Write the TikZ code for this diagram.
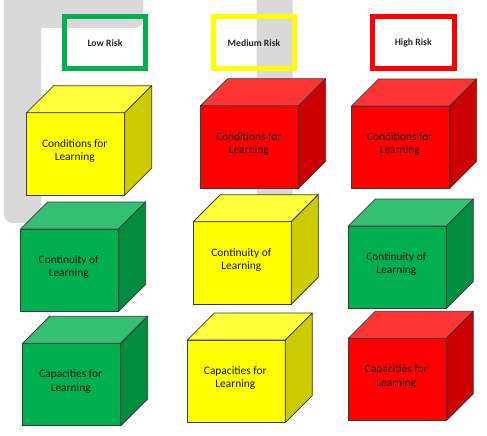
\documentclass[tikz,border=0pt]{standalone}
\usepackage{fontspec}
\setmainfont{Carlito}
\usetikzlibrary{calc}
\definecolor{bggray}{HTML}{D9D9D9}
\definecolor{cubeline}{HTML}{3A3A3A}
\definecolor{lowgreen}{HTML}{00B050}
\definecolor{medyellow}{HTML}{FFFF00}
\definecolor{highred}{HTML}{FF0000}
\definecolor{yelF}{HTML}{FFFF00}
\definecolor{yelT}{HTML}{FFFF3A}
\definecolor{yelS}{HTML}{CCCC00}
\definecolor{redF}{HTML}{FF0000}
\definecolor{redT}{HTML}{FF3535}
\definecolor{redS}{HTML}{CC0000}
\definecolor{grnF}{HTML}{00B050}
\definecolor{grnT}{HTML}{33C073}
\definecolor{grnS}{HTML}{008D40}
\tikzset{
  cubefront/.style={draw=cubeline, line width=0.75pt, minimum width=98pt,
    minimum height=82.5pt, inner sep=0pt, outer sep=0pt},
  cubeface/.style={draw=cubeline, line width=0.75pt, line join=round},
  cubetext/.style={align=center, font=\fontsize{11.4}{13.3}\selectfont, text=black!92},
  riskbox/.style={draw, line width=5pt, minimum width=81.6pt, minimum height=51.7pt,
    inner sep=0pt, font=\bfseries\fontsize{9.7}{11}\selectfont, text=black!85},
}
\newcommand{\mycube}[5]{%
  \node[cubefront, fill=#4F, anchor=north west] (#1) at (#2,#3) {};
  \filldraw[cubeface, fill=#4T] (#1.north west) -- ++(27,-27)
    -- ($(#1.north east)+(27,-27)$) -- (#1.north east) -- cycle;
  \filldraw[cubeface, fill=#4S] (#1.north east) -- ++(27,-27)
    -- ($(#1.south east)+(27,-27)$) -- (#1.south east) -- cycle;
  \node[cubetext] (#1-t) at ($(#1.center)+(-1,-3)$) {#5};
}
\begin{document}
\begin{tikzpicture}[x=1pt, y=-1pt]
  \clip (0,0) rectangle (487,436);
  \fill[white] (0,0) rectangle (487,436);
  % background gray shapes
  \fill[bggray, rounded corners=9pt] (4,-12) rectangle (143.3,28);
  \fill[bggray, rounded corners=9pt] (4,-12) rectangle (41,223);
  \fill[bggray, rounded corners=9pt] (256.7,-12) rectangle (292.7,223);
  % headers
  \node[riskbox, draw=lowgreen] (low) at (105,42.7) {Low Risk};
  \node[riskbox, draw=medyellow] (med) at (254,42.7) {Medium Risk};
  \node[riskbox, draw=highred] (high) at (413.3,42.7) {High Risk};
  % row 1
  \mycube{c1}{26.7}{112.7}{yel}{Conditions for\\Learning}
  \mycube{c2}{200.7}{105.7}{red}{Conditions for\\Learning}
  \mycube{c3}{351.7}{106}{red}{Conditions for\\Learning}
  % row 2
  \mycube{c4}{20.7}{229}{grn}{Continuity of\\Learning}
  \mycube{c5}{193.3}{221.7}{yel}{Continuity of\\Learning}
  \mycube{c6}{348.3}{226}{grn}{Continuity of\\Learning}
  % row 3
  \mycube{c7}{22.7}{343.3}{grn}{Capacities for\\Learning}
  \mycube{c8}{187.3}{340}{yel}{Capacities for\\Learning}
  \mycube{c9}{348.3}{338.3}{red}{Capacities for\\Learning}
\end{tikzpicture}
\end{document}
